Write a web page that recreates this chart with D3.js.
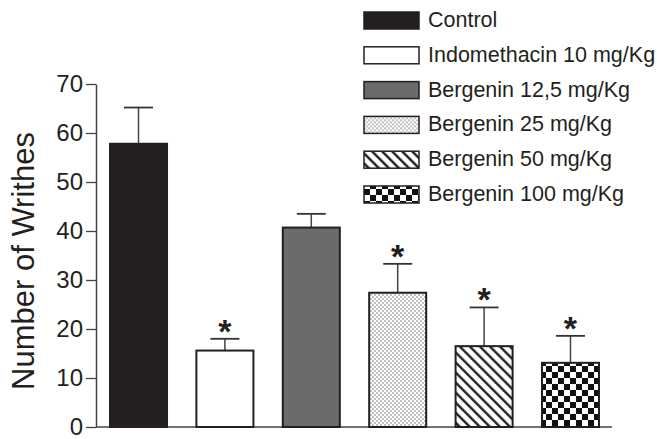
<!DOCTYPE html>
<html>
<head>
<meta charset="utf-8">
<script src="https://cdn.jsdelivr.net/npm/d3@7"></script>
<style>
  body { margin: 0; background: #fff; }
  text { font-family: "Liberation Sans", Arial, sans-serif; }
</style>
</head>
<body>
<svg id="chart" width="657" height="439"></svg>
<script>
// data
const groups = ["Control", "Indomethacin 10 mg/Kg", "Bergenin 12,5 mg/Kg",
                "Bergenin 25 mg/Kg", "Bergenin 50 mg/Kg", "Bergenin 100 mg/Kg"];
const means = [57.8, 15.6, 40.7, 27.4, 16.5, 13.1];
const sem = [7.4, 2.4, 2.8, 5.9, 7.9, 5.5];
const signif = [false, true, false, true, true, true];
const yTicks = [0, 10, 20, 30, 40, 50, 60, 70];

const fills = ["#231f20", "#ffffff", "#6b6b6b", "url(#dots)", "url(#diag)", "url(#check)"];

const svg = d3.select("#chart");

// patterns
const defs = svg.append("defs");
const dots = defs.append("pattern").attr("id", "dots")
  .attr("patternUnits", "userSpaceOnUse").attr("width", 4).attr("height", 4);
dots.append("rect").attr("width", 4).attr("height", 4).attr("fill", "#fff");
dots.append("circle").attr("cx", 1).attr("cy", 1).attr("r", 0.75).attr("fill", "#666");
dots.append("circle").attr("cx", 3).attr("cy", 3).attr("r", 0.75).attr("fill", "#666");

const diag = defs.append("pattern").attr("id", "diag")
  .attr("patternUnits", "userSpaceOnUse").attr("width", 7.1).attr("height", 7.1)
  .attr("patternTransform", "rotate(-45)");
diag.append("rect").attr("width", 7.1).attr("height", 7.1).attr("fill", "#fff");
diag.append("line").attr("x1", 2).attr("x2", 2).attr("y1", 0).attr("y2", 7.1)
  .attr("stroke", "#231f20").attr("stroke-width", 2.4);

const check = defs.append("pattern").attr("id", "check")
  .attr("patternUnits", "userSpaceOnUse").attr("width", 12).attr("height", 12);
check.append("rect").attr("width", 12).attr("height", 12).attr("fill", "#fff");
check.append("rect").attr("width", 6).attr("height", 6).attr("fill", "#111");
check.append("rect").attr("x", 6).attr("y", 6).attr("width", 6).attr("height", 6).attr("fill", "#111");

// scales
const x = d3.scaleBand().domain(groups).range([110, 599]).paddingInner(0.34).paddingOuter(0);
const y = d3.scaleLinear().domain([0, 70]).range([427, 84]);

// axes
const yAxis = svg.append("g").attr("transform", "translate(96,0)")
  .call(d3.axisLeft(y).tickValues(yTicks).tickSize(10).tickPadding(3).tickSizeOuter(0));
yAxis.select(".domain").attr("stroke", "#444").attr("stroke-width", 1.5);
yAxis.selectAll(".tick line").attr("stroke", "#444").attr("stroke-width", 1.3);
yAxis.selectAll(".tick text").attr("font-size", 24).attr("fill", "#231f20")
  .attr("font-family", "Liberation Sans, Arial, sans-serif");

svg.append("line").attr("x1", 96).attr("x2", 612).attr("y1", y(0)).attr("y2", y(0))
  .attr("stroke", "#444").attr("stroke-width", 1.5);

svg.append("text")
  .attr("transform", "translate(34,261) rotate(-90)")
  .attr("text-anchor", "middle").attr("font-size", 31).attr("fill", "#231f20")
  .text("Number of Writhes");

// error bars
const capW = 29;
const err = svg.append("g");
groups.forEach((g, i) => {
  const cx = x(g) + x.bandwidth() / 2;
  err.append("line").attr("x1", cx).attr("x2", cx)
    .attr("y1", y(means[i])).attr("y2", y(means[i] + sem[i]))
    .attr("stroke", "#444").attr("stroke-width", 1.5);
  err.append("line").attr("x1", cx - capW / 2).attr("x2", cx + capW / 2)
    .attr("y1", y(means[i] + sem[i])).attr("y2", y(means[i] + sem[i]))
    .attr("stroke", "#333").attr("stroke-width", 1.8);
  if (signif[i]) {
    err.append("text").attr("x", cx).attr("y", y(means[i] + sem[i]) + 4)
      .attr("text-anchor", "middle").attr("font-size", 34).attr("font-weight", "bold")
      .attr("fill", "#231f20").text("*");
  }
});

// bars
svg.append("g").selectAll("rect").data(groups).join("rect")
  .attr("x", d => x(d))
  .attr("y", (d, i) => y(means[i]))
  .attr("width", x.bandwidth())
  .attr("height", (d, i) => y(0) - y(means[i]))
  .attr("fill", (d, i) => fills[i])
  .attr("stroke", "#231f20").attr("stroke-width", 2);

// legend
const leg = svg.append("g").attr("transform", "translate(364,0)");
const item = leg.selectAll("g").data(groups).join("g")
  .attr("transform", (d, i) => `translate(0,${27 + i * 34.8})`);
item.append("rect").attr("y", -15).attr("width", 55).attr("height", 17)
  .attr("fill", (d, i) => fills[i]).attr("stroke", "#231f20").attr("stroke-width", 1.5);
item.append("text").attr("x", 64).attr("y", 0).attr("font-size", 21.5)
  .attr("fill", "#231f20").text(d => d);
</script>
</body>
</html>
